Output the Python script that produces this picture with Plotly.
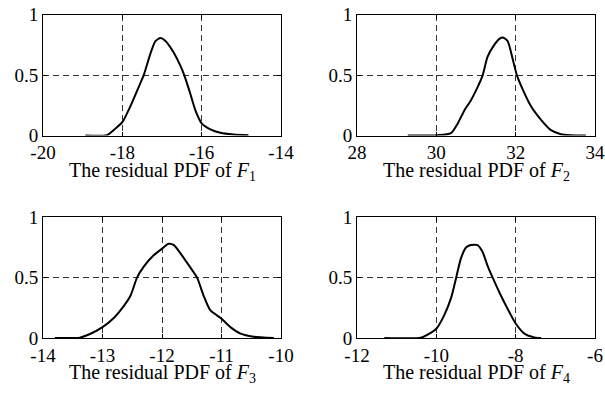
import plotly.graph_objects as go

# ---- data ----
x_f1 = [-18.93, -18.39, -18.20, -18.00, -17.80, -17.55, -17.46, -17.29, -17.17, -17.04,
        -16.92, -16.71, -16.54, -16.44, -16.29, -16.16, -16.00, -15.78, -15.53, -15.19, -14.82]
y_f1 = [0.0, 0.003, 0.05, 0.11, 0.24, 0.43, 0.50, 0.68, 0.78, 0.807,
        0.785, 0.69, 0.58, 0.50, 0.35, 0.21, 0.10, 0.05, 0.022, 0.008, 0.003]

x_f2 = [29.28, 30.03, 30.37, 30.54, 30.71, 30.87, 31.04, 31.17, 31.29, 31.46, 31.59, 31.69,
        31.80, 31.92, 32.03, 32.18, 32.39, 32.64, 32.89, 33.14, 33.39, 33.77]
y_f2 = [0.0, 0.003, 0.02, 0.10, 0.21, 0.29, 0.40, 0.50, 0.65, 0.75, 0.80, 0.81,
        0.78, 0.64, 0.50, 0.38, 0.24, 0.13, 0.044, 0.011, 0.003, 0.0]

x_f3 = [-13.80, -13.38, -13.21, -13.00, -12.81, -12.65, -12.53, -12.42, -12.31, -12.14, -12.00,
        -11.89, -11.80, -11.63, -11.49, -11.41, -11.30, -11.19, -11.00, -10.85, -10.68, -10.46, -10.12]
y_f3 = [0.0, 0.003, 0.033, 0.09, 0.166, 0.26, 0.35, 0.50, 0.59, 0.685, 0.74,
        0.78, 0.77, 0.66, 0.56, 0.50, 0.35, 0.23, 0.16, 0.09, 0.036, 0.011, 0.0]

x_f4 = [-11.31, -10.39, -10.22, -10.00, -9.80, -9.63, -9.50, -9.38, -9.25, -9.13, -8.96,
        -8.83, -8.71, -8.58, -8.37, -8.16, -8.00, -7.78, -7.53, -7.36]
y_f4 = [0.0, 0.002, 0.028, 0.077, 0.19, 0.33, 0.50, 0.66, 0.75, 0.77, 0.77,
        0.71, 0.60, 0.50, 0.35, 0.215, 0.12, 0.036, 0.005, 0.0]

xticks_f1 = [-20, -18, -16, -14]
xticks_f2 = [28, 30, 32, 34]
xticks_f3 = [-14, -13, -12, -11, -10]
xticks_f4 = [-12, -10, -8, -6]
yticks = [0, 0.5, 1]
ytick_labels = ["0", "0.5", "1"]
subscripts = ["1", "2", "3", "4"]

series = [(x_f1, y_f1, xticks_f1), (x_f2, y_f2, xticks_f2),
          (x_f3, y_f3, xticks_f3), (x_f4, y_f4, xticks_f4)]

# ---- layout geometry ----
W, H = 605, 394
xdoms = [[43 / W, 281 / W], [357 / W, 595 / W]]
ydoms = [[(H - 135.5) / H, (H - 14.7) / H], [(H - 338) / H, (H - 217.3) / H]]

FONT = "Liberation Serif, Times New Roman, serif"

fig = go.Figure()
layout = dict(width=W, height=H, margin=dict(l=0, r=0, t=0, b=0, autoexpand=False),
              paper_bgcolor="white", plot_bgcolor="white", showlegend=False,
              font=dict(family=FONT, size=19, color="black"))
annotations = []

for i, (xs, ys, xt) in enumerate(series):
    k = "" if i == 0 else str(i + 1)
    fig.add_trace(go.Scatter(x=xs, y=ys, mode="lines",
                             line=dict(color="black", width=2, shape="spline", smoothing=0.6),
                             xaxis="x" + k, yaxis="y" + k, hoverinfo="skip"))
    row, col = divmod(i, 2)
    axcommon = dict(showline=True, linecolor="black", linewidth=1, mirror="ticks",
                    ticks="inside", ticklen=4, tickcolor="black", automargin=False,
                    showgrid=True, gridcolor="#333333", gridwidth=1, griddash="6px,4px",
                    zeroline=False, tickfont=dict(family=FONT, size=19, color="black"))
    layout["xaxis" + k] = dict(axcommon, domain=xdoms[col], anchor="y" + k,
                               range=[xt[0], xt[-1]], tickmode="array", tickvals=xt,
                               ticktext=[str(v) for v in xt])
    layout["yaxis" + k] = dict(axcommon, domain=ydoms[row], anchor="x" + k,
                               range=[0, 1], tickmode="array", tickvals=yticks,
                               ticktext=ytick_labels)
    annotations.append(dict(text="The residual PDF of <i>F</i><sub>" + subscripts[i] + "</sub>",
                            xref="x" + k + " domain", yref="y" + k + " domain",
                            x=0.5, y=0, xanchor="center", yanchor="top", yshift=-21,
                            showarrow=False, font=dict(family=FONT, size=20, color="black")))

layout["annotations"] = annotations
fig.update_layout(**layout)
fig.write_html("out.html", config={"displayModeBar": False},
               post_script="document.body.style.margin='0';document.body.style.overflow='hidden';")
